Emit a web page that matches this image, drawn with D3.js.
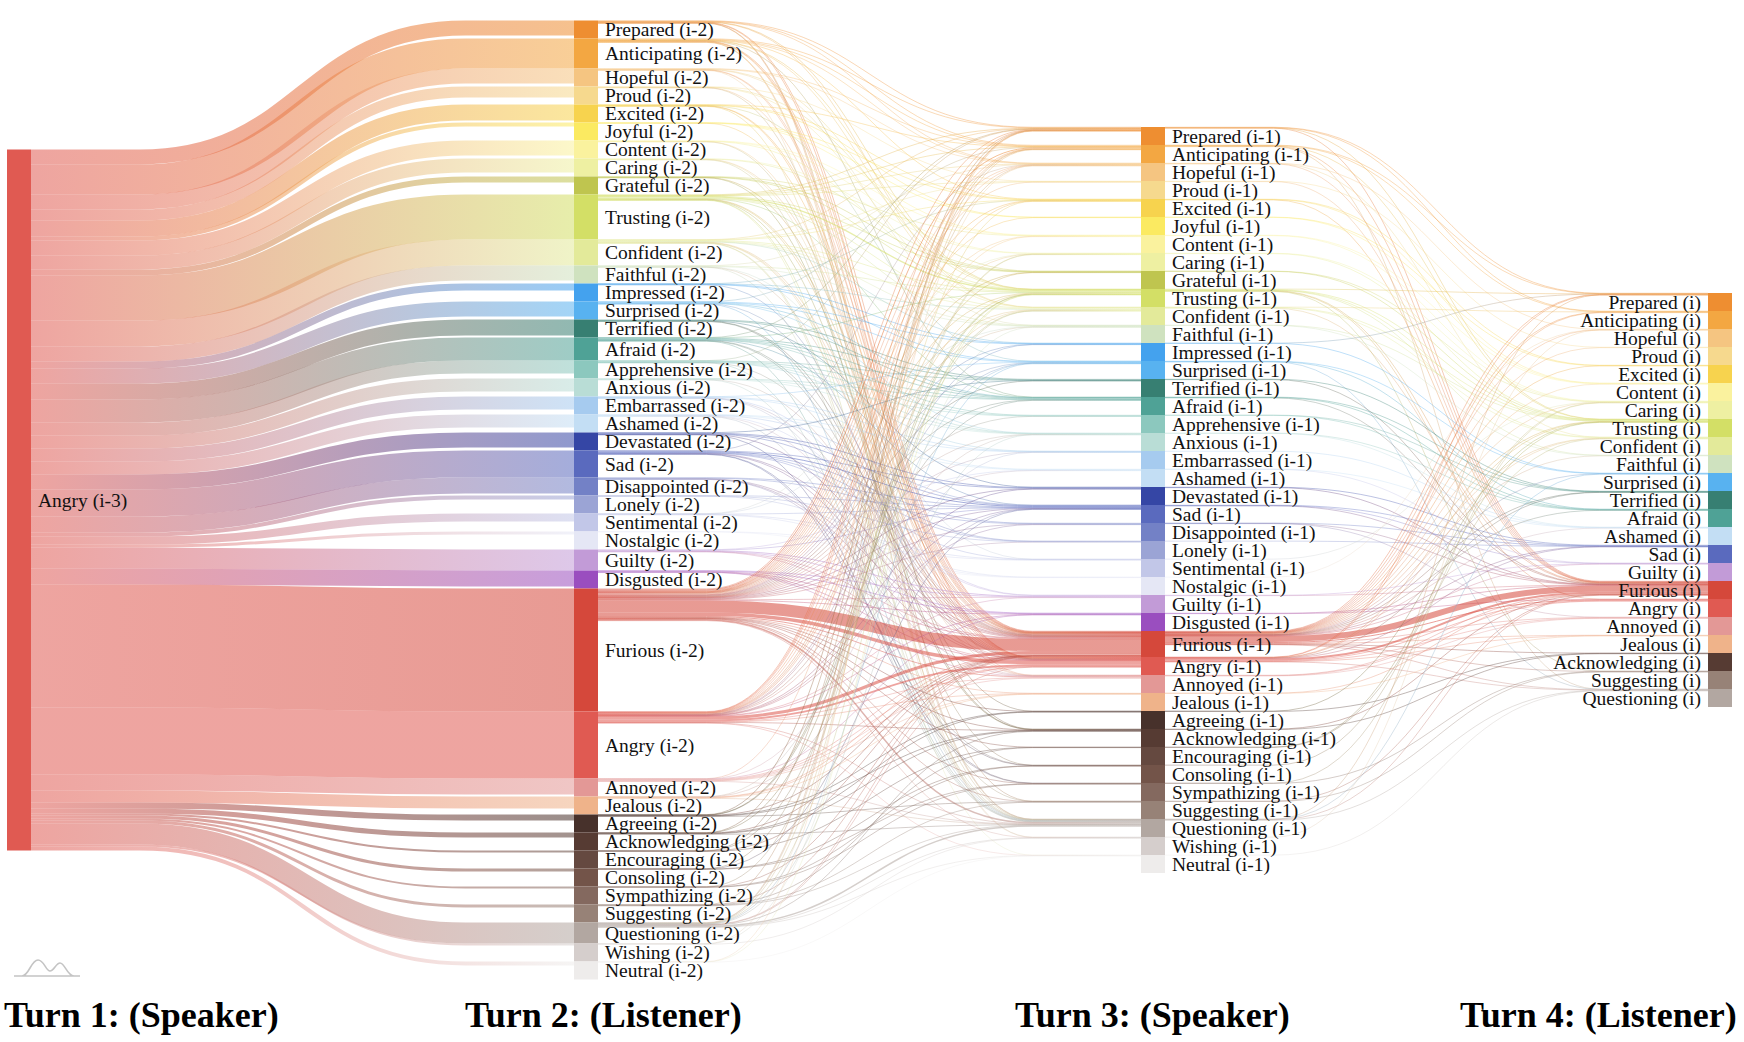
<!DOCTYPE html>
<html>
<head>
<meta charset="utf-8">
<script src="https://cdn.jsdelivr.net/npm/d3@7"></script>
<style>
  body { margin: 0; background: #fff; }
  .label { font-family: "Liberation Serif", "Times New Roman", serif; font-size: 19.5px; fill: #111; }
  .title { font-family: "Liberation Serif", "Times New Roman", serif; font-weight: bold; font-size: 36px; fill: #000; }
</style>
</head>
<body>
<script>
// emotion categories (turn 2 and turn 3 share the full list)
var emotions = ["Prepared", "Anticipating", "Hopeful", "Proud", "Excited", "Joyful", "Content", "Caring",
    "Grateful", "Trusting", "Confident", "Faithful", "Impressed", "Surprised", "Terrified", "Afraid",
    "Apprehensive", "Anxious", "Embarrassed", "Ashamed", "Devastated", "Sad", "Disappointed", "Lonely",
    "Sentimental", "Nostalgic", "Guilty", "Disgusted", "Furious", "Angry", "Annoyed", "Jealous",
    "Agreeing", "Acknowledging", "Encouraging", "Consoling", "Sympathizing", "Suggesting", "Questioning",
    "Wishing", "Neutral"];

var emotionColors = ["#EE8E31", "#F3A742", "#F5C581", "#F6D98E", "#F7D34E", "#FBEA61", "#FAF29E", "#EEF0A2",
    "#BFC54F", "#D3DF66", "#E3EA9A", "#CFE2BF", "#44A2EE", "#58B2F0", "#377F72", "#4FA296",
    "#8CC8BE", "#B9DDD6", "#A6CBEF", "#C3DEF4", "#3546A5", "#5A6ABE", "#7381C6", "#9BA4D5",
    "#C2C7E8", "#E5E7F5", "#C29BD7", "#9A4EBF", "#D5483B", "#E05A52", "#E39896", "#EFB38A",
    "#47312B", "#563B33", "#654940", "#735449", "#84695F", "#978277", "#B2A7A1",
    "#D5CECC", "#EEECEB"];

var turn1Emotions = ["Angry"];

var turn4Emotions = ["Prepared", "Anticipating", "Hopeful", "Proud", "Excited", "Content", "Caring", "Trusting",
    "Confident", "Faithful", "Surprised", "Terrified", "Afraid", "Ashamed", "Sad", "Guilty", "Furious",
    "Angry", "Annoyed", "Jealous", "Acknowledging", "Suggesting", "Questioning"];

var turnSuffix = ["(i-3)", "(i-2)", "(i-1)", "(i)"];
var turnTitles = ["Turn 1: (Speaker)", "Turn 2: (Listener)", "Turn 3: (Speaker)", "Turn 4: (Listener)"];

// counts from Angry (i-3) to each turn-2 emotion, same order as emotions
var turn1to2 = [60, 120, 60, 44, 64, 16, 60, 56, 24, 180, 104, 60, 28, 60, 64, 92,
    52, 52, 52, 52, 60, 108, 64, 16, 32, 12, 84, 64, 492, 268, 64, 48,
    24, 20, 8, 12, 8, 12, 84, 8, 16];

// turn 2 -> turn 3 counts
var turn2to3 = [
    ["Prepared","Prepared",2],["Prepared","Anticipating",2],["Prepared","Hopeful",1],["Prepared","Trusting",1],["Prepared","Confident",1],["Prepared","Furious",2],["Prepared","Angry",1],["Prepared","Suggesting",1],["Prepared","Questioning",1],
    ["Anticipating","Prepared",2],["Anticipating","Anticipating",3],["Anticipating","Hopeful",1],["Anticipating","Excited",1],["Anticipating","Trusting",1],["Anticipating","Confident",1],["Anticipating","Afraid",1],["Anticipating","Furious",2],["Anticipating","Angry",1],["Anticipating","Annoyed",1],["Anticipating","Questioning",1],["Anticipating","Wishing",1],
    ["Hopeful","Anticipating",1],["Hopeful","Hopeful",2],["Hopeful","Trusting",1],["Hopeful","Faithful",1],["Hopeful","Furious",1],["Hopeful","Angry",1],["Hopeful","Wishing",1],
    ["Proud","Proud",2],["Proud","Grateful",1],["Proud","Confident",1],["Proud","Furious",1],["Proud","Acknowledging",1],
    ["Excited","Anticipating",1],["Excited","Excited",2],["Excited","Joyful",1],["Excited","Surprised",1],["Excited","Furious",1],["Excited","Angry",1],["Excited","Questioning",1],
    ["Joyful","Excited",1],["Joyful","Joyful",1],["Joyful","Content",1],["Joyful","Furious",1],
    ["Content","Content",2],["Content","Caring",1],["Content","Trusting",1],["Content","Angry",1],["Content","Agreeing",1],
    ["Caring","Caring",2],["Caring","Grateful",1],["Caring","Furious",1],["Caring","Annoyed",1],["Caring","Consoling",1],
    ["Grateful","Content",1],["Grateful","Grateful",2],["Grateful","Trusting",1],["Grateful","Furious",1],["Grateful","Acknowledging",1],
    ["Trusting","Prepared",2],["Trusting","Anticipating",2],["Trusting","Hopeful",1],["Trusting","Proud",1],["Trusting","Grateful",1],["Trusting","Trusting",5],["Trusting","Confident",3],["Trusting","Faithful",2],["Trusting","Afraid",1],["Trusting","Furious",2],["Trusting","Angry",1],["Trusting","Acknowledging",1],["Trusting","Questioning",1],["Trusting","Neutral",1],
    ["Confident","Prepared",1],["Confident","Proud",1],["Confident","Excited",1],["Confident","Trusting",2],["Confident","Confident",3],["Confident","Faithful",1],["Confident","Impressed",1],["Confident","Furious",2],["Confident","Angry",1],["Confident","Annoyed",1],["Confident","Suggesting",1],["Confident","Questioning",1],
    ["Faithful","Hopeful",1],["Faithful","Trusting",2],["Faithful","Faithful",2],["Faithful","Sentimental",1],["Faithful","Furious",1],["Faithful","Questioning",1],
    ["Impressed","Excited",1],["Impressed","Confident",1],["Impressed","Impressed",2],["Impressed","Surprised",1],["Impressed","Angry",1],
    ["Surprised","Anticipating",1],["Surprised","Impressed",2],["Surprised","Surprised",3],["Surprised","Afraid",1],["Surprised","Anxious",1],["Surprised","Furious",2],["Surprised","Questioning",2],
    ["Terrified","Terrified",3],["Terrified","Afraid",2],["Terrified","Devastated",1],["Terrified","Furious",1],["Terrified","Angry",1],
    ["Afraid","Prepared",1],["Afraid","Trusting",1],["Afraid","Terrified",2],["Afraid","Afraid",3],["Afraid","Apprehensive",2],["Afraid","Anxious",1],["Afraid","Sad",1],["Afraid","Furious",2],["Afraid","Angry",1],["Afraid","Questioning",2],
    ["Apprehensive","Prepared",1],["Apprehensive","Terrified",1],["Apprehensive","Afraid",2],["Apprehensive","Apprehensive",2],["Apprehensive","Anxious",1],["Apprehensive","Embarrassed",1],["Apprehensive","Furious",1],["Apprehensive","Questioning",1],
    ["Anxious","Afraid",1],["Anxious","Apprehensive",1],["Anxious","Anxious",2],["Anxious","Furious",1],["Anxious","Questioning",1],
    ["Embarrassed","Surprised",1],["Embarrassed","Embarrassed",2],["Embarrassed","Ashamed",2],["Embarrassed","Guilty",1],["Embarrassed","Furious",1],["Embarrassed","Annoyed",1],
    ["Ashamed","Embarrassed",1],["Ashamed","Ashamed",2],["Ashamed","Sad",1],["Ashamed","Guilty",2],["Ashamed","Angry",1],["Ashamed","Consoling",1],
    ["Devastated","Terrified",1],["Devastated","Devastated",3],["Devastated","Sad",2],["Devastated","Lonely",1],["Devastated","Furious",2],["Devastated","Sympathizing",1],
    ["Sad","Hopeful",1],["Sad","Devastated",2],["Sad","Sad",4],["Sad","Disappointed",2],["Sad","Lonely",1],["Sad","Sentimental",1],["Sad","Furious",2],["Sad","Angry",1],["Sad","Consoling",1],["Sad","Sympathizing",1],
    ["Disappointed","Sad",2],["Disappointed","Disappointed",2],["Disappointed","Furious",2],["Disappointed","Angry",1],["Disappointed","Annoyed",1],
    ["Lonely","Sad",1],["Lonely","Lonely",2],["Lonely","Nostalgic",1],
    ["Sentimental","Caring",1],["Sentimental","Faithful",1],["Sentimental","Sad",1],["Sentimental","Sentimental",2],["Sentimental","Nostalgic",1],
    ["Nostalgic","Sentimental",1],["Nostalgic","Nostalgic",1],
    ["Guilty","Ashamed",2],["Guilty","Sad",1],["Guilty","Guilty",4],["Guilty","Disgusted",1],["Guilty","Furious",1],["Guilty","Angry",1],
    ["Disgusted","Guilty",1],["Disgusted","Disgusted",3],["Disgusted","Furious",2],["Disgusted","Angry",1],["Disgusted","Annoyed",1],
    ["Furious","Prepared",3],["Furious","Anticipating",4],["Furious","Hopeful",2],["Furious","Proud",2],["Furious","Excited",2],["Furious","Joyful",1],["Furious","Content",2],["Furious","Caring",1],["Furious","Grateful",1],["Furious","Trusting",3],["Furious","Confident",3],["Furious","Faithful",2],["Furious","Impressed",1],["Furious","Surprised",2],["Furious","Terrified",2],["Furious","Afraid",2],["Furious","Apprehensive",1],["Furious","Anxious",1],["Furious","Embarrassed",1],["Furious","Ashamed",1],["Furious","Devastated",2],["Furious","Sad",2],["Furious","Disappointed",2],["Furious","Lonely",1],["Furious","Guilty",2],["Furious","Disgusted",2],["Furious","Furious",48],["Furious","Angry",14],["Furious","Annoyed",4],["Furious","Jealous",2],["Furious","Agreeing",1],["Furious","Acknowledging",2],["Furious","Encouraging",1],["Furious","Sympathizing",1],["Furious","Suggesting",1],["Furious","Questioning",6],["Furious","Wishing",1],
    ["Angry","Prepared",1],["Angry","Anticipating",2],["Angry","Hopeful",1],["Angry","Excited",1],["Angry","Content",1],["Angry","Grateful",1],["Angry","Trusting",2],["Angry","Confident",2],["Angry","Impressed",1],["Angry","Surprised",1],["Angry","Afraid",1],["Angry","Anxious",1],["Angry","Devastated",1],["Angry","Sad",1],["Angry","Disappointed",1],["Angry","Guilty",1],["Angry","Disgusted",1],["Angry","Furious",12],["Angry","Angry",8],["Angry","Annoyed",2],["Angry","Jealous",1],["Angry","Acknowledging",1],["Angry","Questioning",2],["Angry","Neutral",1],
    ["Annoyed","Anticipating",1],["Annoyed","Embarrassed",1],["Annoyed","Disgusted",1],["Annoyed","Furious",3],["Annoyed","Angry",2],["Annoyed","Annoyed",2],["Annoyed","Jealous",1],["Annoyed","Questioning",1],
    ["Jealous","Surprised",1],["Jealous","Sad",1],["Jealous","Furious",2],["Jealous","Angry",1],["Jealous","Jealous",2],["Jealous","Questioning",1],
    ["Agreeing","Prepared",1],["Agreeing","Trusting",1],["Agreeing","Confident",1],["Agreeing","Furious",1],["Agreeing","Agreeing",2],["Agreeing","Acknowledging",1],["Agreeing","Suggesting",1],
    ["Acknowledging","Anticipating",1],["Acknowledging","Trusting",1],["Acknowledging","Furious",1],["Acknowledging","Agreeing",1],["Acknowledging","Acknowledging",2],["Acknowledging","Questioning",2],
    ["Encouraging","Hopeful",1],["Encouraging","Confident",1],["Encouraging","Furious",1],["Encouraging","Encouraging",1],
    ["Consoling","Caring",1],["Consoling","Sad",1],["Consoling","Consoling",1],["Consoling","Sympathizing",1],
    ["Sympathizing","Caring",1],["Sympathizing","Furious",1],["Sympathizing","Consoling",1],["Sympathizing","Sympathizing",1],
    ["Suggesting","Prepared",1],["Suggesting","Furious",1],["Suggesting","Encouraging",1],["Suggesting","Suggesting",2],["Suggesting","Questioning",1],
    ["Questioning","Prepared",1],["Questioning","Anticipating",2],["Questioning","Excited",1],["Questioning","Trusting",1],["Questioning","Surprised",2],["Questioning","Anxious",1],["Questioning","Furious",2],["Questioning","Angry",1],["Questioning","Acknowledging",1],["Questioning","Questioning",6],["Questioning","Wishing",1],["Questioning","Neutral",1],
    ["Wishing","Hopeful",1],["Wishing","Faithful",1],["Wishing","Wishing",2],
    ["Neutral","Prepared",1],["Neutral","Trusting",1],["Neutral","Neutral",2]
];

// turn 3 -> turn 4 counts
var turn3to4 = [
    ["Prepared","Prepared",2],["Prepared","Anticipating",1],["Prepared","Trusting",1],["Prepared","Furious",2],
    ["Anticipating","Prepared",1],["Anticipating","Anticipating",2],["Anticipating","Trusting",1],["Anticipating","Furious",2],["Anticipating","Questioning",1],
    ["Hopeful","Hopeful",2],["Hopeful","Confident",1],["Hopeful","Furious",1],
    ["Proud","Proud",2],["Proud","Furious",1],
    ["Excited","Excited",2],["Excited","Content",1],["Excited","Furious",1],
    ["Joyful","Excited",1],["Joyful","Content",1],
    ["Content","Content",2],["Content","Caring",1],
    ["Caring","Caring",2],["Caring","Trusting",1],
    ["Grateful","Caring",1],["Grateful","Trusting",1],
    ["Trusting","Prepared",1],["Trusting","Trusting",3],["Trusting","Confident",1],["Trusting","Faithful",1],["Trusting","Furious",2],["Trusting","Angry",1],["Trusting","Suggesting",1],
    ["Confident","Anticipating",1],["Confident","Trusting",1],["Confident","Confident",2],["Confident","Furious",2],
    ["Faithful","Trusting",1],["Faithful","Faithful",2],
    ["Impressed","Prepared",1],["Impressed","Surprised",1],
    ["Surprised","Surprised",2],["Surprised","Afraid",1],["Surprised","Questioning",1],
    ["Terrified","Terrified",2],["Terrified","Furious",1],
    ["Afraid","Terrified",1],["Afraid","Afraid",2],["Afraid","Furious",1],
    ["Apprehensive","Terrified",1],["Apprehensive","Afraid",1],
    ["Anxious","Afraid",1],["Anxious","Ashamed",1],
    ["Embarrassed","Ashamed",2],
    ["Ashamed","Ashamed",1],["Ashamed","Guilty",1],
    ["Devastated","Sad",2],["Devastated","Furious",1],
    ["Sad","Sad",2],["Sad","Guilty",1],["Sad","Furious",1],
    ["Disappointed","Sad",1],["Disappointed","Furious",1],["Disappointed","Annoyed",1],
    ["Lonely","Sad",1],
    ["Sentimental","Caring",1],
    ["Nostalgic","Hopeful",1],
    ["Guilty","Guilty",2],["Guilty","Furious",1],
    ["Disgusted","Furious",2],["Disgusted","Angry",1],
    ["Furious","Prepared",2],["Furious","Anticipating",2],["Furious","Hopeful",1],["Furious","Proud",1],["Furious","Excited",1],["Furious","Content",1],["Furious","Caring",1],["Furious","Trusting",2],["Furious","Confident",2],["Furious","Faithful",1],["Furious","Surprised",1],["Furious","Terrified",1],["Furious","Afraid",1],["Furious","Ashamed",1],["Furious","Sad",1],["Furious","Guilty",1],["Furious","Furious",24],["Furious","Angry",4],["Furious","Annoyed",2],["Furious","Jealous",2],["Furious","Acknowledging",1],["Furious","Suggesting",1],["Furious","Questioning",2],
    ["Angry","Prepared",1],["Angry","Anticipating",1],["Angry","Trusting",1],["Angry","Confident",1],["Angry","Terrified",1],["Angry","Sad",1],["Angry","Furious",8],["Angry","Angry",2],["Angry","Annoyed",2],["Angry","Jealous",1],["Angry","Questioning",1],
    ["Annoyed","Furious",2],["Annoyed","Angry",1],["Annoyed","Annoyed",1],
    ["Jealous","Furious",1],["Jealous","Jealous",1],
    ["Agreeing","Trusting",1],["Agreeing","Acknowledging",1],
    ["Acknowledging","Furious",1],["Acknowledging","Acknowledging",2],
    ["Encouraging","Trusting",1],["Encouraging","Confident",1],
    ["Consoling","Caring",1],
    ["Sympathizing","Caring",1],["Sympathizing","Suggesting",1],
    ["Suggesting","Furious",1],["Suggesting","Suggesting",2],
    ["Questioning","Prepared",1],["Questioning","Surprised",1],["Questioning","Furious",2],["Questioning","Questioning",2],
    ["Wishing","Hopeful",1],
    ["Neutral","Questioning",1]
];

//chart frame
var width = 1744,
    height = 1042,
    nodeWidth = 24,
    minNodeHeight = 18,
    centerY = 500;

var svg = d3.select("body")
    .append("svg")
    .attr("width", width)
    .attr("height", height);

var color = d3.scaleOrdinal().domain(emotions).range(emotionColors);
var xCol = d3.scaleLinear().domain([0, 3]).range([7, 1708]);
var yValue = d3.scaleLinear().domain([0, d3.sum(turn1to2)]).range([0, 701]);

//build nodes for each turn
var columns = [turn1Emotions, emotions, emotions, turn4Emotions];
var nodes = [], nodeByKey = new Map(), links = [];

columns.forEach(function(names, c){
    names.forEach(function(name){
        var n = {name: name, col: c, label: name + " " + turnSuffix[c], inLinks: [], outLinks: []};
        nodes.push(n);
        nodeByKey.set(c + ":" + name, n);
    });
});

function addLink(c, s, t, v){
    var l = {source: nodeByKey.get(c + ":" + s), target: nodeByKey.get((c + 1) + ":" + t), value: v};
    l.source.outLinks.push(l);
    l.target.inLinks.push(l);
    links.push(l);
}
emotions.forEach(function(e, i){ addLink(0, "Angry", e, turn1to2[i]); });
turn2to3.forEach(function(d){ addLink(1, d[0], d[1], d[2]); });
turn3to4.forEach(function(d){ addLink(2, d[0], d[1], d[2]); });

//node sizes and stacking (columns centred)
nodes.forEach(function(n){
    n.value = Math.max(d3.sum(n.inLinks, function(l){ return l.value; }),
                       d3.sum(n.outLinks, function(l){ return l.value; }));
    n.h = Math.max(minNodeHeight, yValue(n.value));
    n.x0 = xCol(n.col);
    n.x1 = n.x0 + nodeWidth;
});
columns.forEach(function(names, c){
    var colNodes = nodes.filter(function(n){ return n.col === c; });
    var y = centerY - d3.sum(colNodes, function(n){ return n.h; }) / 2;
    colNodes.forEach(function(n){ n.y0 = y; n.y1 = y + n.h; y = n.y1; });
});

//link offsets at both ends
links.forEach(function(l){ l.w = yValue(l.value); });
nodes.forEach(function(n){
    n.outLinks.sort(function(a, b){ return a.target.y0 - b.target.y0; });
    var y = n.y0;
    n.outLinks.forEach(function(l){ l.y0 = y + l.w / 2; y += l.w; });
    n.inLinks.sort(function(a, b){ return a.source.y0 - b.source.y0; });
    y = n.y0;
    n.inLinks.forEach(function(l){ l.y1 = y + l.w / 2; y += l.w; });
});

var curve = d3.linkHorizontal();
function linkPath(l){
    var x0 = l.source.x1, x1 = l.target.x0, d = x1 - x0;
    var xa = x0 + d * 0.2, xb = x1 - d * 0.2;
    return "M" + x0 + "," + l.y0 + "H" + xa +
        curve({source: [xa, l.y0], target: [xb, l.y1]}).replace(/^M[^C]*/, "") +
        "H" + x1;
}

//gradients source -> target colour
var defs = svg.append("defs");
var grads = defs.selectAll("linearGradient")
    .data(links)
    .enter()
    .append("linearGradient")
    .attr("id", function(d, i){ return "lg" + i; })
    .attr("gradientUnits", "userSpaceOnUse")
    .attr("x1", function(d){ return d.source.x1; })
    .attr("x2", function(d){ return d.target.x0; })
    .attr("y1", 0)
    .attr("y2", 0);
grads.append("stop").attr("offset", "0%").attr("stop-color", function(d){ return color(d.source.name); });
grads.append("stop").attr("offset", "100%").attr("stop-color", function(d){ return color(d.target.name); });

//links
svg.append("g")
    .attr("fill", "none")
    .selectAll("path")
    .data(links)
    .enter()
    .append("path")
    .attr("d", linkPath)
    .attr("stroke", function(d, i){ return "url(#lg" + i + ")"; })
    .attr("stroke-opacity", function(d){ return d.w < 1 ? 0.45 : 0.55; })
    .attr("stroke-width", function(d){ return Math.max(0.8, d.w); });

//nodes
svg.append("g")
    .selectAll("rect")
    .data(nodes)
    .enter()
    .append("rect")
    .attr("x", function(d){ return d.x0; })
    .attr("y", function(d){ return d.y0; })
    .attr("width", nodeWidth)
    .attr("height", function(d){ return d.h; })
    .attr("fill", function(d){ return color(d.name); });

//labels (last turn sits left of its nodes)
svg.append("g")
    .selectAll("text")
    .data(nodes)
    .enter()
    .append("text")
    .attr("class", "label")
    .attr("x", function(d){ return d.col === 3 ? d.x0 - 7 : d.x1 + 7; })
    .attr("y", function(d){ return (d.y0 + d.y1) / 2; })
    .attr("dy", "0.35em")
    .attr("text-anchor", function(d){ return d.col === 3 ? "end" : "start"; })
    .text(function(d){ return d.label; });

//turn titles
var titleX = [4, 465, 1015, 1460];
svg.append("g")
    .selectAll("text")
    .data(turnTitles)
    .enter()
    .append("text")
    .attr("class", "title")
    .attr("x", function(d, i){ return titleX[i]; })
    .attr("y", 1027)
    .text(function(d){ return d; });

//small logo mark bottom-left
svg.append("path")
    .attr("d", "M14,976H80M22,976C29,976 31,960 38,960C44,960 46,971 50,971C54,971 56,963 60,963C65,963 67,976 74,976")
    .attr("fill", "none")
    .attr("stroke", "#c4c4c4")
    .attr("stroke-width", 1.6);
</script>
</body>
</html>
